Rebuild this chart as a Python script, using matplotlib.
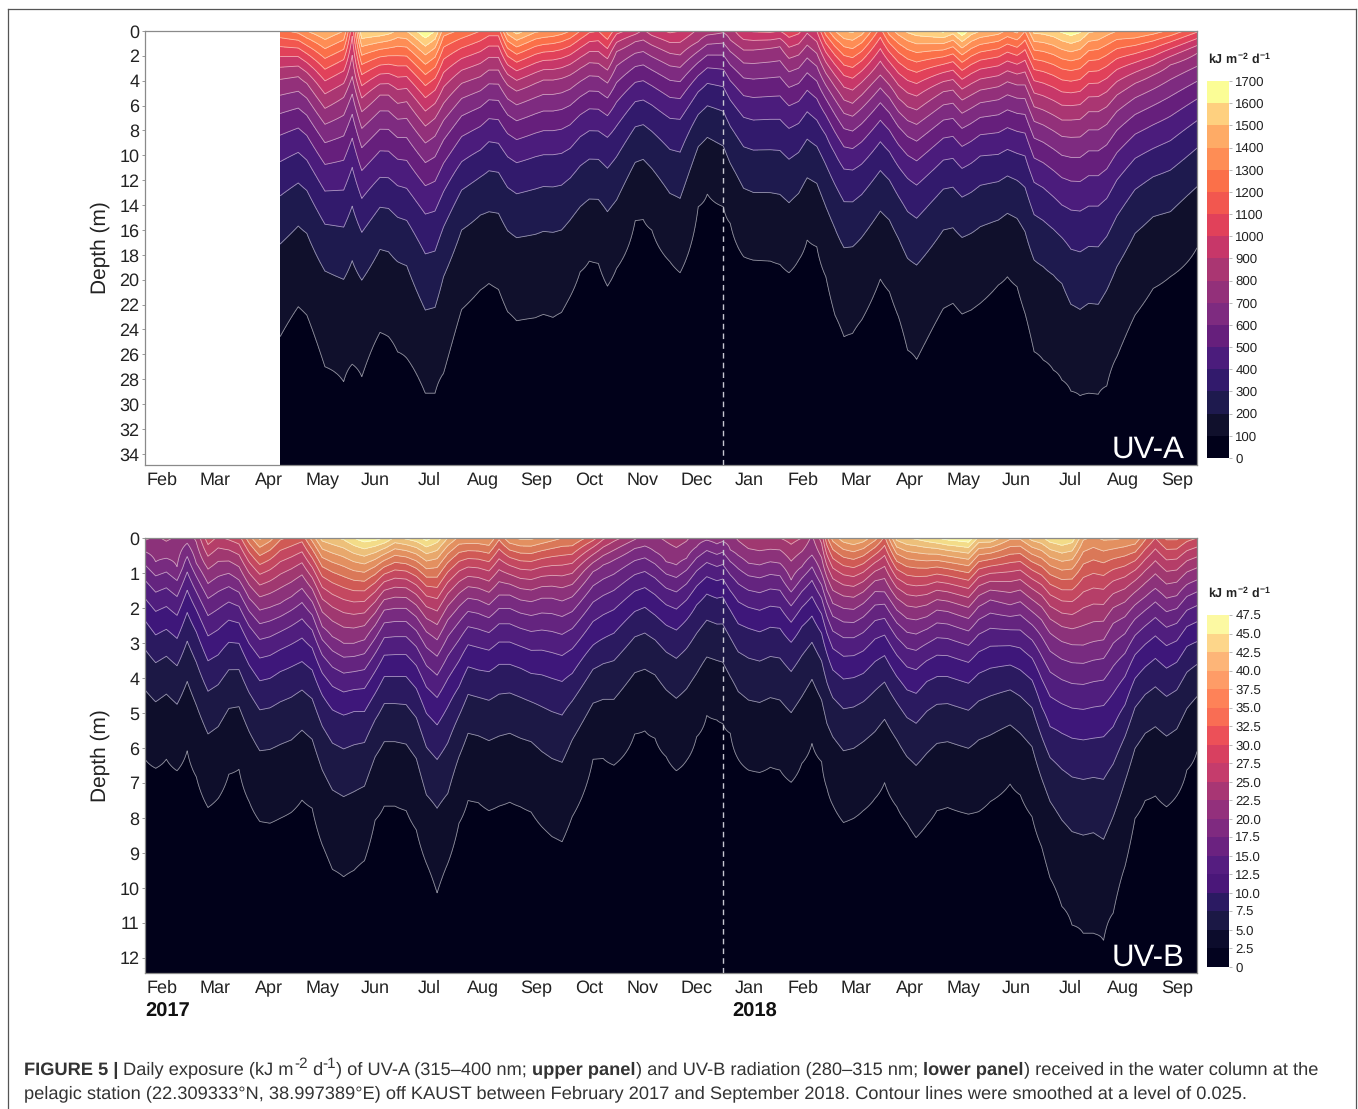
import numpy as np
import matplotlib
matplotlib.use("Agg")
import matplotlib.pyplot as plt
from matplotlib.lines import Line2D
from matplotlib.colors import BoundaryNorm, ListedColormap
from matplotlib.cm import ScalarMappable

plt.rcParams["font.family"] = ["Liberation Sans", "DejaVu Sans"]
plt.rcParams["mathtext.fontset"] = "custom"
plt.rcParams["mathtext.rm"] = "Liberation Sans"
plt.rcParams["mathtext.bf"] = "Liberation Sans:bold"
plt.rcParams["text.hinting"] = "no_hinting"

MONTHS = ["Feb", "Mar", "Apr", "May", "Jun", "Jul", "Aug", "Sep", "Oct", "Nov",
          "Dec", "Jan", "Feb", "Mar", "Apr", "May", "Jun", "Jul", "Aug", "Sep"]

# UV-A: time in months since Feb 2017, depth (m) of four isolines, surface value
uva_t = [2.21, 2.55, 2.71, 3.05, 3.40, 3.56, 3.74, 4.08, 4.24, 4.41, 4.58, 4.93, 5.11, 5.27, 5.61, 5.96,
         6.12, 6.30, 6.47, 6.64, 6.99, 7.14, 7.32, 7.48, 7.64, 7.83, 8.00, 8.17, 8.34, 8.51, 8.86, 9.01,
         9.17, 9.51, 9.70, 10.04, 10.21, 10.51,
         10.64, 10.89, 11.07, 11.39, 11.57, 11.74, 11.92, 12.08, 12.26, 12.43, 12.60, 12.77, 12.93, 13.10,
         13.45, 13.62, 13.79, 13.96, 14.13, 14.63, 14.81, 14.98, 15.15, 15.32, 15.66, 15.83, 16.01, 16.16,
         16.33, 16.50, 16.69, 16.85, 17.02, 17.19, 17.35, 17.53, 17.69, 17.88, 18.22, 18.56, 18.88, 19.38]
uva_z100 = [24.58, 22.17, 22.84, 27.0, 28.2, 26.8, 27.8, 24.24, 24.58, 25.8, 26.3, 29.14, 29.14, 27.53, 22.39, 20.83,
            20.3, 20.78, 22.57, 23.3, 23.06, 22.79, 23.03, 22.63, 21.37, 19.36, 18.5, 18.69, 20.51, 19.09, 15.25, 15.15,
            16.0, 18.55, 19.44, 14.13, 13.11, 14.13,
            15.47, 18.15, 18.42, 18.5, 18.77, 19.44, 18.42, 16.81, 17.35, 19.76, 22.84, 24.58, 24.32, 23.24,
            19.95, 20.97, 22.98, 25.66, 26.41, 22.31, 21.9, 22.76, 22.44, 21.9, 20.43, 19.76, 20.56, 22.71,
            25.79, 26.46, 27.27, 28.07, 28.96, 29.33, 29.14, 29.22, 28.55, 26.19, 22.84, 20.7, 19.76, 17.43]
uva_z200 = [17.13, 15.68, 16.27, 19.3, 19.97, 18.47, 20.03, 17.56, 17.75, 18.55, 18.87, 22.44, 22.23, 19.76, 16.0, 14.8,
            14.53, 14.66, 16.06, 16.62, 16.35, 16.11, 16.19, 16.0, 15.2, 14.13, 13.51, 13.54, 14.53, 13.59, 10.56, 10.32,
            11.05, 13.06, 13.46, 9.3, 8.55, 9.25,
            10.64, 12.65, 12.98, 13.0, 13.14, 13.81, 13.06, 11.8, 12.25, 14.13, 15.87, 17.43, 17.35, 16.6,
            14.48, 15.2, 16.68, 18.28, 18.82, 16.0, 15.82, 16.6, 16.27, 15.74, 15.2, 14.66, 15.07, 16.14,
            18.42, 18.95, 19.62, 20.3, 21.98, 22.39, 21.9, 21.98, 20.83, 18.95, 16.27, 14.93, 14.53, 12.52]
uva_z400 = [10.51, 9.76, 10.38, 12.87, 12.79, 10.97, 13.46, 11.77, 11.8, 12.44, 12.65, 14.72, 14.48, 12.92, 10.51, 9.57,
            8.9, 9.03, 10.11, 10.59, 10.11, 9.95, 9.95, 9.84, 9.44, 8.5, 8.02, 8.04, 8.55, 7.64, 5.68, 5.55,
            5.95, 7.02, 7.1, 4.88, 4.21, 4.48,
            5.55, 6.94, 7.16, 7.1, 7.1, 7.83, 7.43, 6.49, 7.16, 8.36, 9.84, 11.1, 11.18, 10.7,
            8.9, 9.71, 10.91, 11.85, 12.39, 10.38, 10.24, 11.05, 10.64, 10.05, 9.92, 9.52, 9.84, 10.05,
            12.17, 12.6, 13.32, 13.99, 14.4, 14.48, 14.08, 14.08, 13.46, 11.98, 10.24, 9.44, 8.82, 7.21]
uva_z800 = [3.89, 3.67, 4.21, 6.22, 5.34, 3.67, 6.49, 5.15, 5.15, 5.82, 5.68, 7.64, 7.02, 5.82, 4.21, 3.67,
            3.14, 3.14, 4.34, 4.83, 4.21, 3.94, 3.94, 3.81, 3.54, 3.0, 2.55, 2.6, 3.14, 1.66, 0.86, 0.72,
            1.13, 1.8, 1.93, 0.86, 0.32, 0.13,
            0.72, 1.53, 1.53, 1.39, 1.26, 2.2, 1.93, 1.13, 1.8, 3.4, 4.48, 5.55, 5.82, 5.15,
            3.54, 4.34, 5.42, 6.09, 6.35, 4.88, 4.75, 5.55, 5.15, 4.75, 4.48, 4.08, 4.34, 4.34,
            6.09, 6.35, 6.76, 7.16, 7.16, 7.1, 6.49, 6.49, 6.09, 5.15, 4.21, 3.54, 2.73, 1.8]
uva_surface = [1280, 1330, 1400, 1500, 1400, 1030, 1600, 1580, 1550, 1480, 1500, 1690, 1600, 1350, 1280, 1200,
               1150, 1150, 1450, 1550, 1420, 1400, 1380, 1350, 1300, 1200, 1120, 1100, 1200, 1040, 950, 880,
               950, 1020, 1000, 880, 860, 820,
               850, 990, 1010, 1020, 1000, 1070, 1030, 920, 1000, 1250, 1400, 1500, 1520, 1450,
               1160, 1350, 1450, 1520, 1560, 1620, 1550, 1680, 1560, 1500, 1450, 1380, 1430, 1300,
               1530, 1540, 1570, 1620, 1660, 1620, 1520, 1500, 1450, 1400, 1400, 1350, 1280, 1120]

# UV-B: same layout, isolines at 2.5, 5, 10 and 20 kJ m-2 d-1
uvb_t = [-0.32, -0.12, 0.08, 0.28, 0.47, 0.64, 0.86, 1.05, 1.25, 1.44, 1.63, 1.83, 2.02, 2.21, 2.42, 2.62,
         2.81, 3.0, 3.19, 3.40, 3.59, 3.79, 3.99, 4.16, 4.36, 4.57, 4.76, 4.95, 5.15, 5.35, 5.56, 5.73,
         5.92, 6.12, 6.31, 6.51, 6.71, 6.91, 7.11, 7.30, 7.49, 7.68, 8.07, 8.26, 8.46, 8.85, 9.04, 9.23,
         9.44, 9.63, 9.82, 10.01, 10.20, 10.39, 10.50,
         10.64, 10.79, 10.98, 11.19, 11.39, 11.57, 11.78, 11.98, 12.17, 12.35, 12.45, 12.56, 12.76, 12.95, 13.13,
         13.35, 13.53, 13.76, 13.95, 14.12, 14.32, 14.51, 14.71, 15.1, 15.29, 15.51, 15.88, 16.07, 16.29, 16.47,
         16.63, 16.85, 17.04, 17.25, 17.44, 17.63, 17.81, 18.03, 18.22, 18.41, 18.6, 18.81, 19.0, 19.19, 19.38]
uvb_z2_5 = [6.32, 6.58, 6.32, 6.65, 6.08, 6.82, 7.7, 7.44, 6.75, 6.61, 7.53, 8.1, 8.15, 8.01, 7.84, 7.49,
            7.72, 8.77, 9.47, 9.68, 9.5, 9.22, 8.06, 7.66, 7.66, 7.79, 8.34, 9.3, 10.14, 9.3, 8.15, 7.5,
            7.56, 7.79, 7.66, 7.55, 7.68, 7.83, 8.25, 8.53, 8.68, 7.96, 6.32, 6.3, 6.49, 5.6, 5.51, 5.72,
            6.25, 6.65, 6.36, 5.68, 5.07, 5.2, 5.3,
            5.58, 6.32, 6.63, 6.7, 6.55, 6.63, 6.98, 6.44, 5.87, 6.39, 7.15, 7.63, 8.13, 8.01, 7.79,
            7.44, 6.99, 7.68, 8.15, 8.56, 8.2, 7.79, 7.7, 7.89, 7.82, 7.53, 7.03, 7.34, 7.96, 8.82,
            9.72, 10.53, 11.06, 11.3, 11.3, 11.5, 10.72, 9.39, 8.01, 7.5, 7.37, 7.68, 7.37, 6.63, 6.1]
uvb_z5 = [4.34, 4.68, 4.46, 4.75, 4.1, 4.77, 5.6, 5.39, 4.87, 4.82, 5.53, 6.08, 6.04, 5.9, 5.77, 5.49,
          5.75, 6.63, 7.2, 7.39, 7.25, 7.09, 6.25, 5.82, 5.82, 5.89, 6.3, 7.34, 7.72, 7.3, 6.25, 5.58,
          5.65, 5.79, 5.66, 5.58, 5.72, 5.82, 6.1, 6.3, 6.41, 5.77, 4.72, 4.61, 4.61, 3.85, 3.75, 3.91,
          4.34, 4.58, 4.31, 3.87, 3.4, 3.5, 3.55,
          3.96, 4.39, 4.63, 4.7, 4.56, 4.63, 4.99, 4.53, 4.04, 4.63, 5.3, 5.68, 6.08, 6.01, 5.82,
          5.53, 5.18, 5.77, 6.25, 6.5, 6.15, 5.87, 5.82, 6.01, 5.77, 5.63, 5.34, 5.58, 5.96, 6.87,
          7.53, 8.06, 8.39, 8.49, 8.42, 8.61, 7.96, 6.96, 6.01, 5.58, 5.39, 5.66, 5.46, 4.87, 4.53]
uvb_z10 = [2.36, 2.77, 2.61, 2.87, 2.13, 2.68, 3.51, 3.34, 2.98, 3.01, 3.63, 4.08, 4.01, 3.82, 3.68, 3.53,
           3.77, 4.49, 4.91, 5.06, 4.96, 4.96, 4.44, 3.96, 3.96, 3.96, 4.3, 5.01, 5.34, 4.82, 4.25, 3.68,
           3.77, 3.82, 3.61, 3.61, 3.72, 3.87, 3.91, 4.01, 4.1, 3.87, 3.06, 2.87, 2.72, 2.1, 1.98, 2.2,
           2.49, 2.63, 2.34, 1.91, 1.6, 1.72, 1.68,
           2.06, 2.45, 2.58, 2.68, 2.55, 2.58, 2.98, 2.53, 2.23, 2.72, 3.3, 3.77, 4.03, 3.99, 3.87,
           3.53, 3.36, 3.96, 4.34, 4.44, 4.1, 3.96, 3.96, 4.15, 3.87, 3.72, 3.63, 3.77, 4.06, 4.82,
           5.39, 5.58, 5.72, 5.77, 5.72, 5.68, 5.39, 4.77, 4.01, 3.68, 3.44, 3.72, 3.55, 3.1, 2.96]
uvb_z20 = [0.39, 0.68, 0.58, 0.82, 0.15, 0.72, 1.3, 1.1, 1.01, 1.2, 1.72, 2.06, 1.98, 1.87, 1.68, 1.44,
           1.82, 2.53, 2.82, 3.01, 3.01, 2.91, 2.49, 2.06, 2.01, 2.01, 2.25, 2.68, 2.91, 2.34, 1.96, 1.72,
           1.77, 1.91, 1.63, 1.63, 1.77, 1.82, 1.72, 1.72, 1.8, 1.68, 0.96, 0.77, 0.63, 0.3, 0.23, 0.39,
           0.68, 0.77, 0.58, 0.25, 0.06, 0.17, 0.1,
           0.34, 0.5, 0.72, 0.77, 0.68, 0.72, 1.2, 0.82, 0.49, 1.01, 1.49, 1.87, 2.01, 2.04, 1.87,
           1.53, 1.54, 2.06, 2.3, 2.34, 2.25, 2.06, 2.1, 2.3, 1.96, 1.77, 1.91, 1.82, 2.1, 2.34,
           2.72, 2.96, 3.05, 3.06, 2.96, 2.91, 2.44, 2.25, 1.91, 1.68, 1.44, 1.72, 1.65, 1.33, 1.2]
uvb_surface = [23, 22, 23, 22, 21, 23, 29, 27, 28, 29, 34, 38, 36, 33, 32, 31,
               36, 41, 42, 43, 45, 46.5, 46, 45, 42, 43, 44, 46, 44, 40, 37, 37,
               37, 37.5, 33, 37, 38, 38, 37, 36, 35, 35, 31, 28, 26, 23, 21, 22,
               23, 24, 23, 21, 21, 21, 20.5,
               21, 23, 24.5, 25, 25, 25, 26, 25, 22, 26, 32, 36, 39, 40, 39,
               36, 32, 41, 42.5, 43, 44, 45, 46, 47, 42, 42, 38, 38, 41, 42,
               44, 45, 44, 38, 37, 38, 38, 37.5, 37, 33, 30, 33, 33, 31, 30]

uva_levels = list(range(0, 1800, 100))
uvb_levels = [i * 2.5 for i in range(20)]

uva_colors = ["#01011a", "#10102c", "#1e1a4e", "#321a6c", "#4b1c7c", "#661f7c", "#7e2b80", "#93307a", "#aa3672",
              "#c73769", "#e1415a", "#f2574f", "#fb7049", "#fe8d55", "#feab66", "#fed07f", "#fbfd96"]
# the lower panel is duller than its own colour bar
uvb_colors = ["#01011a", "#0e0e2b", "#1c1845", "#2b1a60", "#3e177a", "#501e7e", "#64247f", "#782b80", "#8c327a",
              "#a03870", "#b53e68", "#c44860", "#d05a55", "#da7858", "#e39060", "#e8a86c", "#edc07a", "#f3dc88",
              "#f9f5a0"]
uvb_bar_colors = ["#03031f", "#0c0c2c", "#1b1845", "#2b1a62", "#4a1779", "#551d80", "#6b2280", "#7f2a80", "#93307c",
                  "#a83674", "#c53c6c", "#d84060", "#ec5058", "#f96d54", "#fe8258", "#fe9c67", "#fdb578", "#fdd68a",
                  "#fcf9a2"]


def build_grid(depth, surface, isolines, iso_values, floor):
    # log-linear between the isolines
    grid = np.zeros((len(depth), len(surface)))
    for j in range(len(surface)):
        zs = [0.0] + [z[j] for z in isolines] + [depth[-1] + 1]
        vals = [surface[j]] + iso_values + [floor]
        grid[:, j] = np.exp(np.interp(depth, zs, np.log(vals)))
    return grid


W, H = 1358, 1109


def axes_px(x0, y0, x1, y1):
    return fig.add_axes([x0 / W, 1 - y1 / H, (x1 - x0) / W, (y1 - y0) / H])


fig = plt.figure(figsize=(W / 100, H / 100), dpi=100)

panels = [
    (31, 465, 34.9, list(range(0, 35, 2)), uva_t, uva_surface, [uva_z800, uva_z400, uva_z200, uva_z100],
     [800, 400, 200, 100], 20, uva_levels, uva_colors, uva_colors, "UV-A", 81, 458, [str(v) for v in uva_levels], 59),
    (538, 973, 12.43, list(range(0, 13)), uvb_t, uvb_surface, [uvb_z20, uvb_z10, uvb_z5, uvb_z2_5],
     [20, 10, 5, 2.5], 0.5, uvb_levels, uvb_colors, uvb_bar_colors, "UV-B", 615, 967,
     ["0"] + [f"{v:.1f}" for v in uvb_levels[1:]], 593),
]

for top, bottom, dmax, yticks, t, surface, iso, iso_vals, floor, levels, colors, bar_colors, name, cb_top, cb_bot, cb_labels, cb_title in panels:
    ax = axes_px(145, top, 1197, bottom)
    depth = np.linspace(0, dmax, 500)
    Z = build_grid(depth, surface, iso, iso_vals, floor)
    ax.contourf(t, depth, Z, levels=levels, colors=colors)
    ax.contour(t, depth, Z, levels=levels[1:-1], colors="white", linewidths=0.6, alpha=0.55)
    ax.axvline(10.5, color="#c8c8d2", lw=1, ls=(0, (4, 3)))
    ax.set_xlim(-0.32, 19.38)
    ax.set_ylim(dmax, 0)
    ax.set_yticks(yticks)
    ax.set_xticks(range(len(MONTHS)))
    ax.set_xticklabels(MONTHS)
    ax.tick_params(axis="x", length=0, pad=5, labelsize=13, labelcolor="#222222")
    ax.tick_params(axis="y", length=2, width=0.6, color="#888888", pad=2, labelsize=13, labelcolor="#222222")
    for s in ax.spines.values():
        s.set_color("#8a8a8a")
        s.set_linewidth(0.9)
    ax.set_ylabel("Depth (m)", fontsize=15, color="#222222", labelpad=7)
    ax.text(0.9877, 0.002, name, transform=ax.transAxes, color="white", fontsize=22.5, ha="right", va="bottom")

    cax = axes_px(1207, cb_top, 1229, cb_bot)
    sm = ScalarMappable(norm=BoundaryNorm(levels, len(bar_colors)), cmap=ListedColormap(bar_colors))
    cb = fig.colorbar(sm, cax=cax, ticks=levels, spacing="uniform")
    cb.ax.set_yticklabels(cb_labels)
    cb.ax.tick_params(length=2, width=0.6, color="#aaaaaa", pad=2.5, labelsize=9.5, labelcolor="#222222")
    cb.outline.set_visible(False)
    fig.text(1208 / W, 1 - cb_title / H, r"$\mathbf{kJ\ m^{-2}\ d^{-1}}$", fontsize=9, va="center", color="#222222")

fig.text(145 / W, 1 - 1012 / H, "2017", fontsize=14.5, fontweight="bold", va="center", color="#111111")
fig.text(732 / W, 1 - 1012 / H, "2018", fontsize=14.5, fontweight="bold", va="center", color="#111111")

# page frame, open at the bottom
for xs, ys in [((8, 8), (9, 1109)), ((8, 1356), (9, 9)), ((1356, 1356), (9, 1109))]:
    fig.add_artist(Line2D([x / W for x in xs], [1 - y / H for y in ys], color="#555555", lw=0.9))

caption = [
    (1068, [("FIGURE 5 |\u00a0", "bold", 0), ("Daily exposure (kJ m", "normal", 0), ("-2", "normal", 1), ("\u00a0d", "normal", 0),
            ("-1", "normal", 1), (") of UV-A (315\u2013400 nm;\u00a0", "normal", 0), ("upper panel", "bold", 0),
            (") and UV-B radiation (280\u2013315 nm;\u00a0", "normal", 0), ("lower panel", "bold", 0),
            (") received in the water column at the", "normal", 0)]),
    (1092, [("pelagic station (22.309333\u00b0N, 38.997389\u00b0E) off KAUST between February 2017 and September 2018. "
             "Contour lines were smoothed at a level of 0.025.", "normal", 0)]),
]
renderer = fig.canvas.get_renderer()
for y, runs in caption:
    x = 24
    for txt, weight, sup in runs:
        t_obj = fig.text(x / W, 1 - (y - 5 * sup) / H, txt, fontsize=11 if sup else 13.15,
                         fontweight=weight, va="center_baseline", color="#333333")
        x += t_obj.get_window_extent(renderer).width

fig.savefig("out.png", dpi=100)
plt.close(fig)
